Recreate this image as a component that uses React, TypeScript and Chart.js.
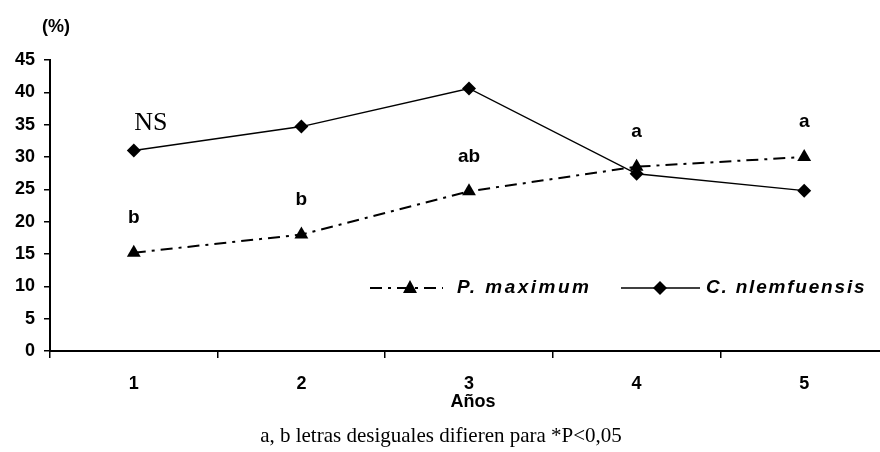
import React, { useEffect, useRef } from "react";
import { Chart, registerables } from "chart.js";

Chart.register(...registerables);

const years = ["1", "2", "3", "4", "5"];
const pMaximum = [15.2, 18.0, 24.7, 28.5, 30.0];
const cNlemfuensis = [31.0, 34.7, 40.6, 27.4, 24.8];
const sigLabels = ["b", "b", "ab", "a", "a"];
const nsLabel = "NS";
const yTitle = "(%)";
const xTitle = "Años";
const caption = "a, b letras desiguales difieren para *P<0,05";
const seriesNames = ["P. maximum", "C. nlemfuensis"];

const W = 896;
const H = 452;
const SANS = "'Liberation Sans', Arial, sans-serif";
const SERIF = "'Liberation Serif', 'Times New Roman', serif";

const annotations = {
  id: "annotations",
  afterDraw(chart: any) {
    const ctx = chart.ctx as CanvasRenderingContext2D;
    const xs = chart.scales.x;
    const ys = chart.scales.y;
    ctx.save();
    ctx.fillStyle = "#000";
    ctx.textAlign = "center";
    ctx.textBaseline = "middle";

    // y title
    ctx.font = `bold 18px ${SANS}`;
    ctx.fillText(yTitle, 56, 27);

    // significance letters
    ctx.font = `bold 19px ${SANS}`;
    pMaximum.forEach((v, i) => {
      const x = xs.getPixelForValue(i);
      const y = ys.getPixelForValue(v);
      ctx.fillText(sigLabels[i], x, y - 35);
    });

    // NS
    ctx.font = `26px ${SERIF}`;
    ctx.fillText(nsLabel, xs.getPixelForValue(0) + 17, ys.getPixelForValue(cNlemfuensis[0]) - 27);

    // x title
    ctx.font = `bold 18px ${SANS}`;
    ctx.fillText(xTitle, 473, 402);

    // caption
    ctx.font = `21px ${SERIF}`;
    ctx.fillText(caption, 441, 436);

    // legend
    const ly = 288;
    ctx.strokeStyle = "#000";
    ctx.lineWidth = 2;
    ctx.setLineDash([12, 6, 3, 6]);
    ctx.beginPath();
    ctx.moveTo(370, ly);
    ctx.lineTo(443, ly);
    ctx.stroke();
    ctx.setLineDash([]);
    ctx.beginPath();
    ctx.moveTo(410, ly - 8);
    ctx.lineTo(417, ly + 5);
    ctx.lineTo(403, ly + 5);
    ctx.closePath();
    ctx.fill();

    ctx.lineWidth = 1.5;
    ctx.beginPath();
    ctx.moveTo(621, ly);
    ctx.lineTo(700, ly);
    ctx.stroke();
    ctx.beginPath();
    ctx.moveTo(660, ly - 7);
    ctx.lineTo(667, ly);
    ctx.lineTo(660, ly + 7);
    ctx.lineTo(653, ly);
    ctx.closePath();
    ctx.fill();

    ctx.textAlign = "left";
    ctx.font = `italic bold 19px ${SANS}`;
    (ctx as any).letterSpacing = "2.5px";
    ctx.fillText(seriesNames[0], 457, ly);
    (ctx as any).letterSpacing = "1.8px";
    ctx.fillText(seriesNames[1], 706, ly);
    (ctx as any).letterSpacing = "0px";
    ctx.restore();
  },
};

export default function App() {
  const ref = useRef<HTMLCanvasElement>(null);
  useEffect(() => {
    if (!ref.current) return;
    const chart = new Chart(ref.current, {
      type: "line",
      data: {
        labels: years,
        datasets: [
          {
            label: seriesNames[0],
            data: pMaximum,
            borderColor: "#000",
            backgroundColor: "#000",
            borderWidth: 2,
            borderDash: [12, 6, 3, 6],
            pointStyle: "triangle",
            pointRadius: 8,
            pointBorderWidth: 0,
            tension: 0,
          },
          {
            label: seriesNames[1],
            data: cNlemfuensis,
            borderColor: "#000",
            backgroundColor: "#000",
            borderWidth: 1.5,
            pointStyle: "rectRot",
            pointRadius: 7,
            pointBorderWidth: 0,
            tension: 0,
          },
        ],
      },
      options: {
        animation: false,
        responsive: false,
        devicePixelRatio: 1,
        layout: { padding: { top: 60, right: 1, left: 0, bottom: 0 } },
        plugins: { legend: { display: false }, tooltip: { enabled: false } },
        scales: {
          x: {
            type: "category",
            offset: true,
            grid: {
              offset: true,
              drawOnChartArea: false,
              drawTicks: true,
              tickLength: 7,
              color: "#000",
              lineWidth: 1.5,
            },
            border: { display: true, color: "#000", width: 2 },
            ticks: {
              color: "#000",
              font: { family: SANS, size: 18, weight: "bold" },
              padding: 15,
              maxRotation: 0,
            },
            afterFit(scale: any) {
              scale.height = 101;
            },
          },
          y: {
            min: 0,
            max: 45,
            grid: {
              drawOnChartArea: false,
              drawTicks: true,
              tickLength: 6,
              color: "#000",
              lineWidth: 1.5,
            },
            border: { display: true, color: "#000", width: 2 },
            ticks: {
              stepSize: 5,
              color: "#000",
              padding: 9,
              font: { family: SANS, size: 18, weight: "bold" },
            },
            afterFit(scale: any) {
              scale.width = 50;
            },
          },
        },
      },
      plugins: [annotations],
    } as any);
    return () => chart.destroy();
  }, []);
  return (
    <div style={{ position: "fixed", left: 0, top: 0, width: 880, height: 452, overflow: "hidden", background: "#fff" }}>
      <canvas ref={ref} width={W} height={H} style={{ width: W, height: H, display: "block" }} />
    </div>
  );
}
